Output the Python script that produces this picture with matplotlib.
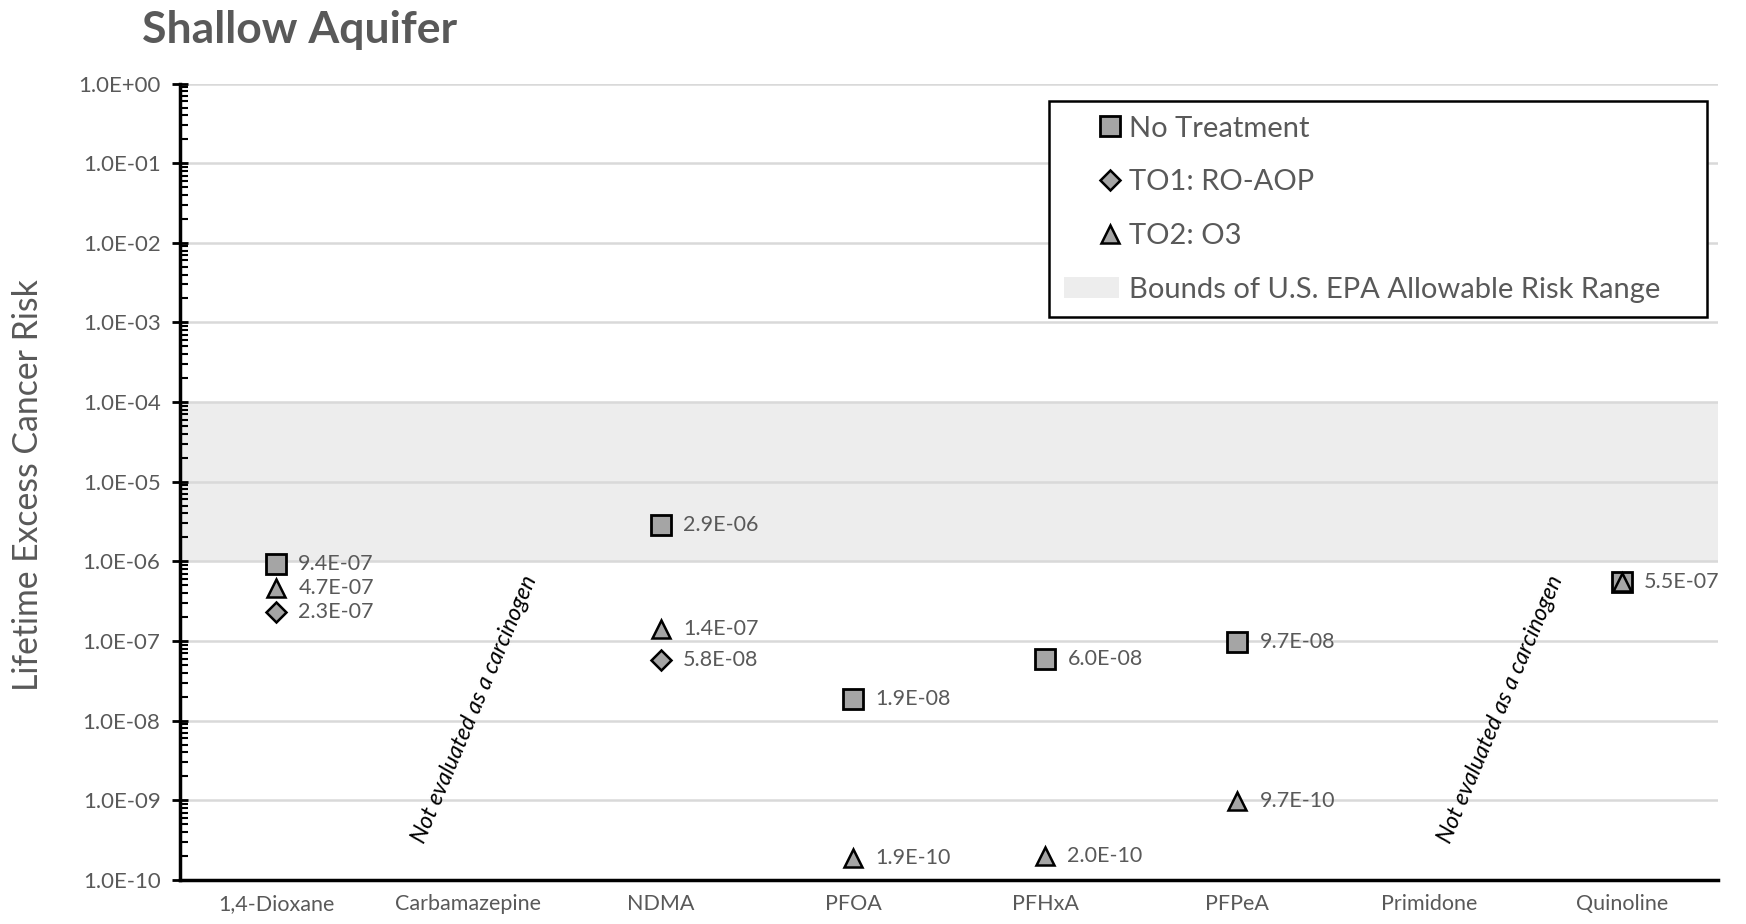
import numpy as np
import matplotlib as mpl
mpl.use("Agg")
import matplotlib.pyplot as plt
from matplotlib.lines import Line2D
from matplotlib.patches import Patch
from matplotlib.legend_handler import HandlerLine2D
from matplotlib.ticker import FixedLocator, FuncFormatter, NullFormatter

plt.rcParams["font.family"] = ["Lato", "DejaVu Sans"]

CATS = ["1,4-Dioxane", "Carbamazepine", "NDMA", "PFOA", "PFHxA", "PFPeA", "Primidone", "Quinoline"]
NO_TREAT = [9.4e-7, np.nan, 2.9e-6, 1.9e-8, 6.0e-8, 9.7e-8, np.nan, 5.5e-7]
TO1_ROAOP = [2.3e-7, np.nan, 5.8e-8, np.nan, np.nan, np.nan, np.nan, np.nan]
TO2_O3 = [4.7e-7, np.nan, 1.4e-7, 1.9e-10, 2.0e-10, 9.7e-10, np.nan, 5.5e-7]
EPA_LO, EPA_HI = 1e-6, 1e-4
NOT_EVAL = ["Carbamazepine", "Primidone"]
Y_EXP = np.arange(-10, 1)

TXT = "#595959"
FILL = "#A5A5A5"
GRID = "#D9D9D9"
BAND = "#EDEDED"

fig = plt.figure(figsize=(17.46, 9.24), dpi=100)
ax = fig.add_axes([0.1031, 0.0476, 0.8809, 0.862])

x = np.arange(len(CATS))
ax.axhspan(EPA_LO, EPA_HI, color=BAND, zorder=0)

ax.plot(x, NO_TREAT, "s", ms=15, mfc=FILL, mec="black", mew=2, ls="none", zorder=3)
ax.plot(x, TO1_ROAOP, "D", ms=10, mfc=FILL, mec="black", mew=1.8, ls="none", zorder=3)
ax.plot(x, TO2_O3, "^", ms=13, mfc=FILL, mec="black", mew=1.8, ls="none", zorder=4)

# value labels to the right of each marker
for series, skip in [(NO_TREAT, None), (TO1_ROAOP, None), (TO2_O3, NO_TREAT)]:
    for i, v in enumerate(series):
        if np.isnan(v):
            continue
        if skip is not None and skip[i] == v:
            continue
        ax.annotate("%.1E" % v, (x[i], v), xytext=(16, 0), textcoords="offset points",
                    va="center", ha="left", fontsize=15.5, color=TXT, zorder=5)

for name, dx in zip(NOT_EVAL, [0.03, 0.37]):
    ax.text(CATS.index(name) + dx, 1.4e-8, "Not evaluated as a carcinogen", rotation=67,
            rotation_mode="anchor", ha="center", va="center", fontsize=16.5, style="italic",
            color="black")

ax.set_yscale("log")
ax.set_ylim(1e-10, 1)
ax.set_xlim(-0.5, len(CATS) - 0.5)
major = 10.0 ** Y_EXP
minor = np.array([m * 10.0 ** e for e in Y_EXP[:-1] for m in range(2, 10)])
ax.yaxis.set_major_locator(FixedLocator(major))
ax.yaxis.set_minor_locator(FixedLocator(minor))
ax.yaxis.set_major_formatter(FuncFormatter(lambda v, p: "%.1E" % v))
ax.yaxis.set_minor_formatter(NullFormatter())
ax.grid(axis="y", which="major", color=GRID, lw=1.8, zorder=1)
ax.set_axisbelow(True)

ax.set_xticks(x)
ax.set_xticklabels(CATS)
ax.tick_params(axis="x", length=0, pad=10, labelsize=15.5, labelcolor=TXT)
ax.tick_params(axis="y", which="major", direction="inout", length=12, width=2, labelsize=16,
               labelcolor=TXT, pad=8)
ax.tick_params(axis="y", which="minor", direction="in", length=6, width=1.5, labelleft=False)
for s in ["top", "right"]:
    ax.spines[s].set_visible(False)
for s in ["left", "bottom"]:
    ax.spines[s].set_linewidth(2.5)
    ax.spines[s].set_zorder(6)

fig.text(0.0816, 0.968, "Shallow Aquifer", fontsize=32, fontweight="bold", color=TXT,
         ha="left", va="center")
fig.text(0.016, 0.475, "Lifetime Excess Cancer Risk", fontsize=24.3, color=TXT,
         rotation=90, ha="center", va="center")


class RightMarker(HandlerLine2D):
    # single marker drawn at the midpoint of xdata, so centre it near the label
    def get_xdata(self, legend, xdescent, ydescent, width, height, fontsize):
        m = -xdescent + 0.5 * width + 0.65 * fontsize
        return [m - 1, m + 1], [m]


handles = [
    Line2D([0], [0], marker="s", ms=14, mfc=FILL, mec="black", mew=2, ls="none", label="No Treatment"),
    Line2D([0], [0], marker="D", ms=10, mfc=FILL, mec="black", mew=1.8, ls="none", label="TO1: RO-AOP"),
    Line2D([0], [0], marker="^", ms=13, mfc=FILL, mec="black", mew=1.8, ls="none", label="TO2: O3"),
    Patch(facecolor=BAND, edgecolor="none", label="Bounds of U.S. EPA Allowable Risk Range"),
]
leg = ax.legend(handles=handles, loc="upper left", bbox_to_anchor=(0.565, 0.703, 0.428, 0.275),
                mode="expand", fontsize=21, labelcolor=TXT, frameon=True, fancybox=False,
                edgecolor="black", framealpha=1, borderpad=0.5, labelspacing=0.95,
                handlelength=1.9, handletextpad=0.35, borderaxespad=0,
                handler_map={Line2D: RightMarker()})
leg.get_frame().set_linewidth(1.8)
leg.set_zorder(7)

fig.savefig("out.png", dpi=100, facecolor="white")
